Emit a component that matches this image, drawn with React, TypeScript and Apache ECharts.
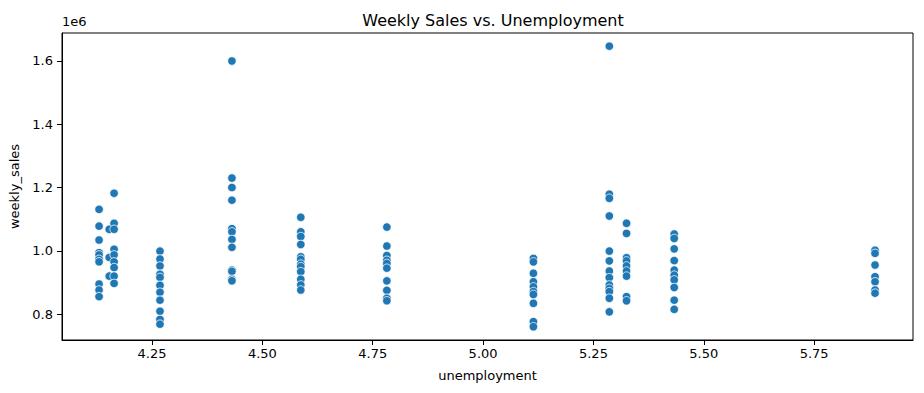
import React, { useEffect, useRef } from "react";
import * as echarts from "echarts";

const unemploymentLevels = [4.13, 4.153, 4.164, 4.268, 4.431, 4.587, 4.782, 5.114, 5.286, 5.325, 5.433, 5.888];

const sales413 = [1131000, 1078000, 1034000, 994000, 987000, 973000, 965000, 895000, 876000, 855000];
const sales4153 = [1068000, 979000, 920000];
const sales4164 = [1182000, 1087000, 1068000, 1005000, 987000, 965000, 947000, 920000, 897000];
const sales4268 = [999000, 974000, 952000, 926000, 916000, 891000, 869000, 844000, 809000, 783000, 768000];
const sales4431 = [1600000, 1230000, 1200000, 1160000, 1070000, 1060000, 1036000, 1011000, 939000, 935000, 910000, 905000];
const sales4587 = [1106000, 1060000, 1045000, 1020000, 981000, 973000, 958000, 950000, 934000, 910000, 892000, 876000];
const sales4782 = [1075000, 1015000, 985000, 970000, 960000, 945000, 905000, 875000, 850000, 842000];
const sales5114 = [976000, 965000, 929000, 902000, 886000, 871000, 862000, 834000, 776000, 760000];
const sales5286 = [1647000, 1179000, 1166000, 1110000, 999000, 968000, 936000, 915000, 892000, 881000, 871000, 850000, 807000];
const sales5325 = [1087000, 1055000, 978000, 968000, 952000, 936000, 920000, 855000, 842000];
const sales5433 = [1053000, 1039000, 1006000, 969000, 939000, 923000, 908000, 884000, 844000, 815000];
const sales5888 = [1002000, 992000, 955000, 918000, 902000, 876000, 866000];

const salesByLevel = [sales413, sales4153, sales4164, sales4268, sales4431, sales4587, sales4782, sales5114, sales5286, sales5325, sales5433, sales5888];

const xTicks = [4.25, 4.5, 4.75, 5.0, 5.25, 5.5, 5.75];
const yTicks = [800000, 1000000, 1200000, 1400000, 1600000];

export default function App() {
  const ref = useRef<HTMLDivElement>(null);
  useEffect(() => {
    document.body.style.margin = "0";
    if (!ref.current) return;
    const chart = echarts.init(ref.current, undefined, { renderer: "svg" });
    const data: number[][] = [];
    unemploymentLevels.forEach((u, i) => {
      salesByLevel[i].forEach((s) => data.push([u, s]));
    });
    const font = "DejaVu Sans";
    chart.setOption({
      animation: false,
      textStyle: { fontFamily: font },
      title: {
        text: "Weekly Sales vs. Unemployment",
        left: 488,
        top: 7,
        textAlign: "center",
        textStyle: { fontFamily: font, fontSize: 16, fontWeight: "normal", color: "#000" },
      },
      graphic: [
        {
          type: "text",
          left: 62,
          top: 15,
          style: { text: "1e6", fontFamily: font, fontSize: 13, fill: "#000" },
        },
      ],
      grid: {
        left: 62,
        right: 11,
        top: 33,
        bottom: 53,
        show: true,
        borderColor: "#000",
        borderWidth: 1,
        backgroundColor: "transparent",
      },
      xAxis: {
        type: "value",
        min: 4.046,
        max: 5.974,
        name: "unemployment",
        nameLocation: "middle",
        nameGap: 29,
        nameTextStyle: { fontFamily: font, fontSize: 13, color: "#000" },
        axisLine: { show: true, lineStyle: { color: "#000", width: 1 } },
        axisTick: { show: true, length: 5, lineStyle: { color: "#000" }, customValues: xTicks },
        axisLabel: {
          fontFamily: font,
          fontSize: 13,
          color: "#000",
          margin: 7,
          customValues: xTicks,
          formatter: (v: number) => v.toFixed(2),
        },
        splitLine: { show: false },
      },
      yAxis: {
        type: "value",
        min: 718000,
        max: 1688500,
        name: "weekly_sales",
        nameLocation: "middle",
        nameGap: 36,
        nameTextStyle: { fontFamily: font, fontSize: 13, color: "#000" },
        axisLine: { show: true, lineStyle: { color: "#000", width: 1 } },
        axisTick: { show: true, length: 5, lineStyle: { color: "#000" }, customValues: yTicks },
        axisLabel: {
          fontFamily: font,
          fontSize: 13,
          color: "#000",
          margin: 9,
          customValues: yTicks,
          formatter: (v: number) => (v / 1e6).toFixed(1),
        },
        splitLine: { show: false },
      },
      series: [
        {
          type: "scatter",
          data,
          symbol: "circle",
          symbolSize: 8.5,
          itemStyle: { color: "#1f77b4", borderColor: "#ffffff", borderWidth: 0.75, opacity: 1 },
        },
      ],
    });
    return () => chart.dispose();
  }, []);
  return <div ref={ref} style={{ width: 924, height: 393 }} />;
}
